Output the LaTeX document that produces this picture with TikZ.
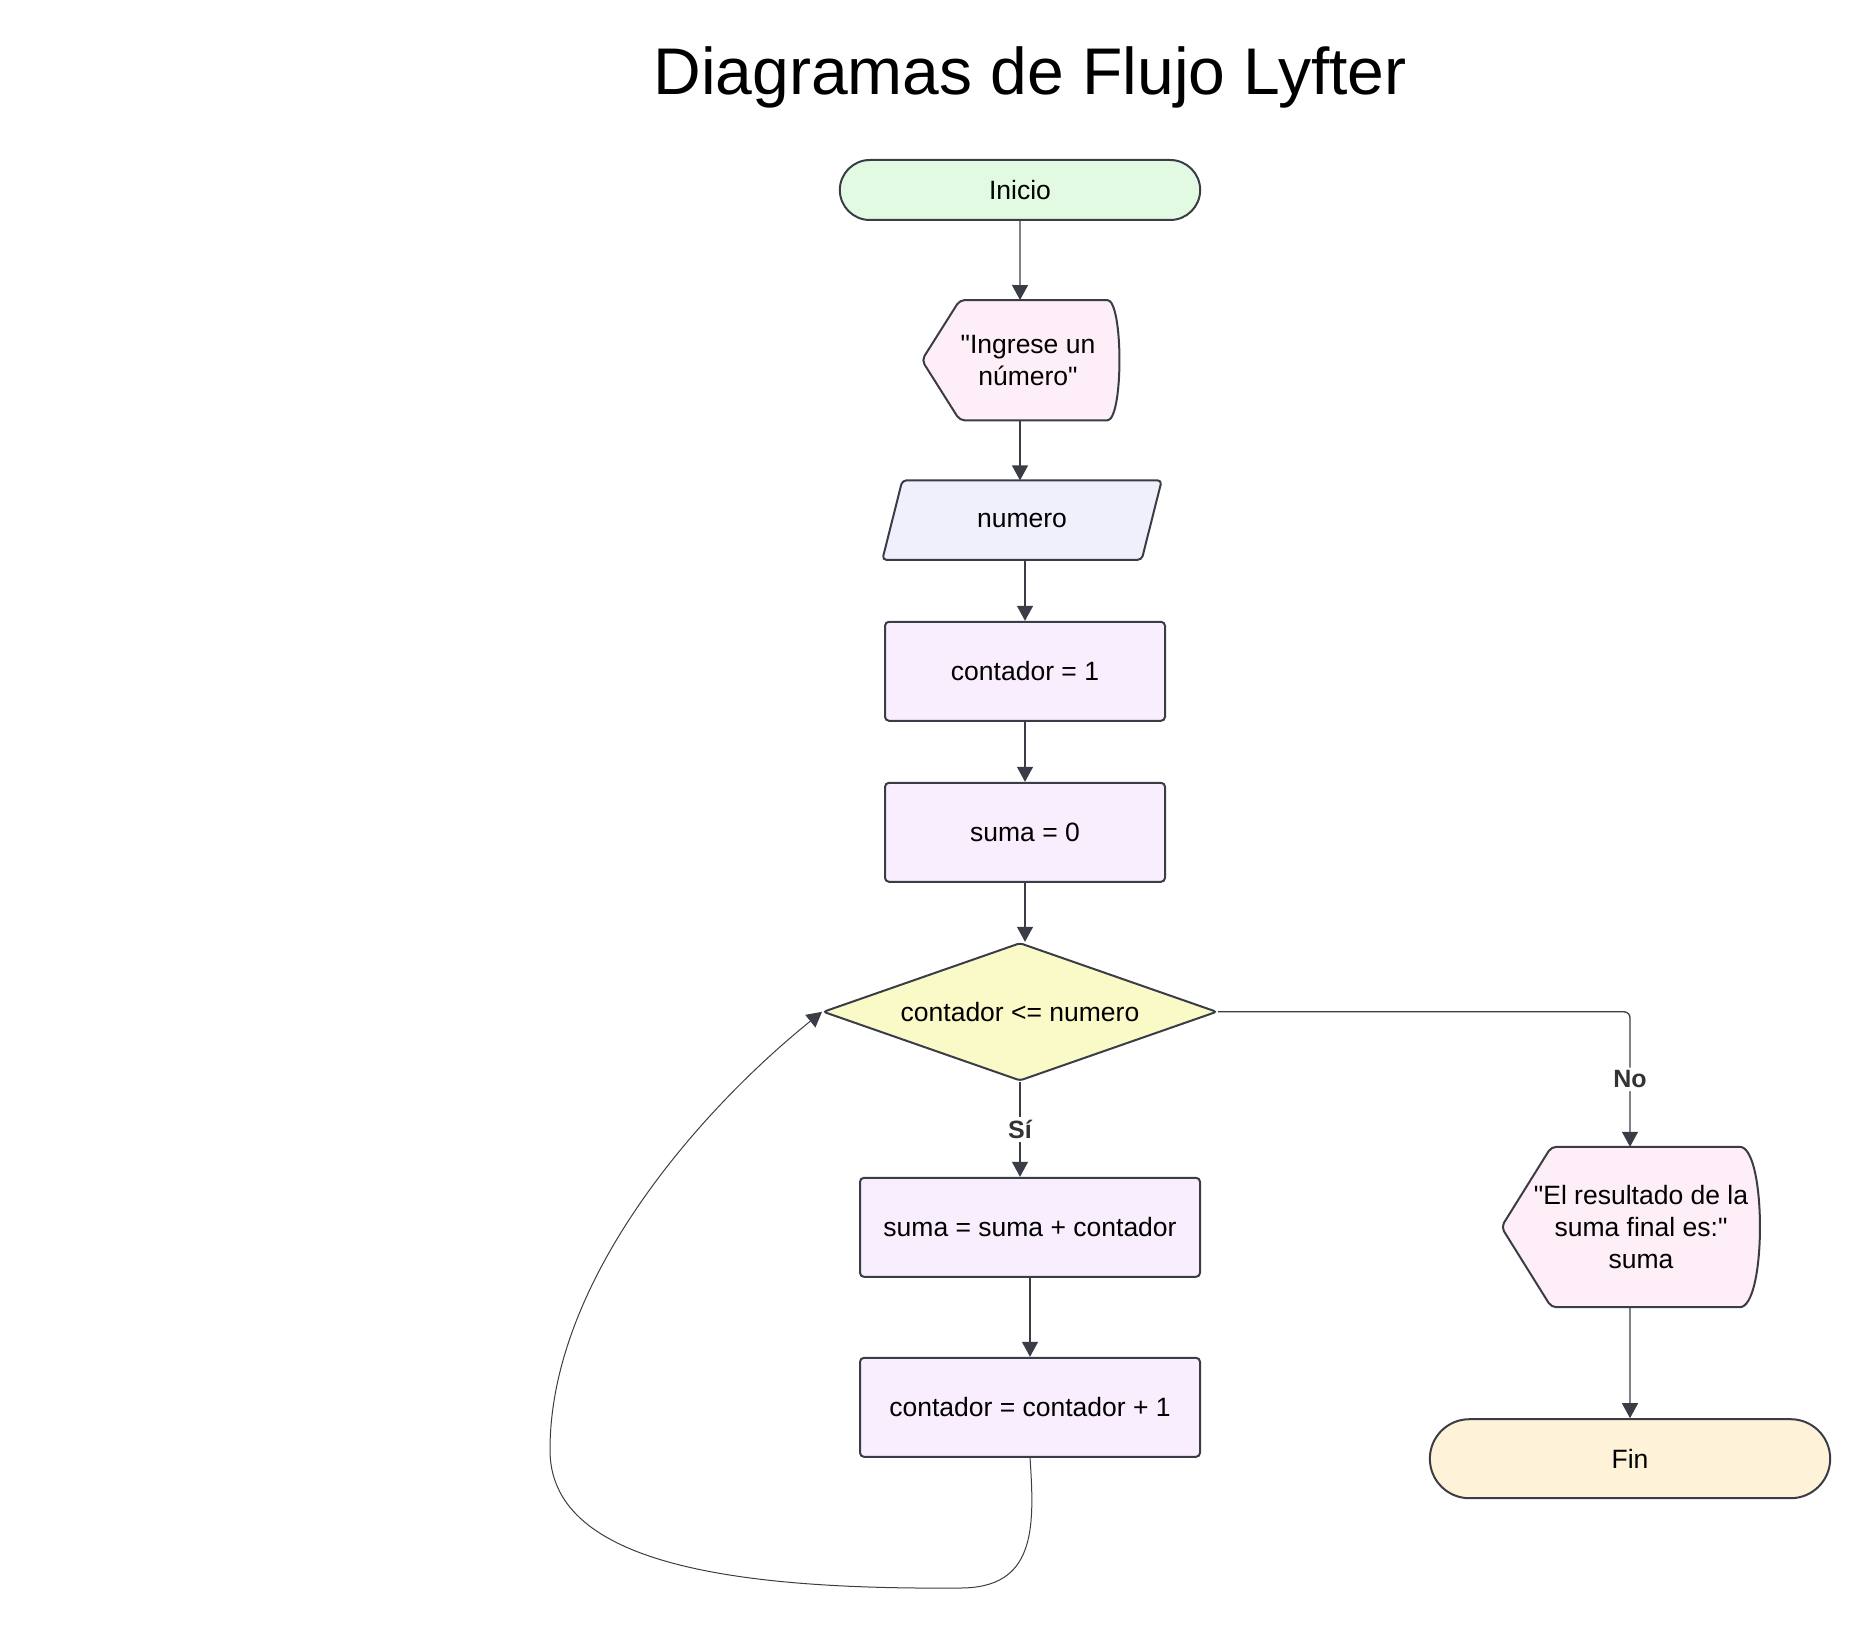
\documentclass[tikz,border=0pt]{standalone}
\usepackage{fontspec}
\setmainfont{Liberation Sans}[Ligatures=TeXOff]
\usetikzlibrary{arrows.meta, positioning, shapes.geometric, shapes.misc, backgrounds}
\definecolor{edgegray}{HTML}{3A3D45}
\definecolor{startgreen}{HTML}{E2F9E2}
\definecolor{showpink}{HTML}{FDEEF8}
\definecolor{inputblue}{HTML}{F0F0FD}
\definecolor{procviolet}{HTML}{F9EEFD}
\definecolor{testyellow}{HTML}{FAFAC8}
\definecolor{endsand}{HTML}{FEF2D9}
\definecolor{labelgray}{HTML}{333333}
\tikzset{
  term/.style={rounded rectangle, draw=edgegray, fill=#1, line width=2pt,
               minimum height=60pt},
  term/.default=startgreen,
  inbox/.style={minimum width=279pt, minimum height=79pt},
  inline/.style={draw=edgegray, fill=inputblue, line width=2pt, rounded corners=4pt},
  pbox/.style={rectangle, rounded corners=4pt, draw=edgegray, fill=procviolet,
               line width=2pt, minimum height=99pt, minimum width=#1},
  pbox/.default=280pt,
  tbox/.style={diamond, aspect=2.85, draw=edgegray, fill=testyellow,
               line width=2pt, rounded corners=3pt, inner sep=0pt,
               minimum width=394pt, minimum height=138pt},
  showbox/.style={align=center, inner sep=0pt},
  showline/.style={draw=edgegray, fill=showpink, line width=2pt, rounded corners=5pt},
  arr/.style={-{Triangle[length=15pt, width=16pt]}, line width=1.3pt, draw=edgegray},
  lbl/.style={fill=white, text=labelgray, inner sep=3pt,
              font=\bfseries\fontsize{25}{30}\selectfont},
}

\begin{document}
\begin{tikzpicture}[x=1pt, y=-1pt, every node/.style={font=\fontsize{26.5}{32}\selectfont}]
  \useasboundingbox (0,0) rectangle (1870,1629);
  \node[anchor=base, font=\fontsize{66}{79}\selectfont] (title) at (1030,95)
    {Diagramas de Flujo Lyfter};

  % main column
  \node[term, minimum width=367pt] (start) at (1020,190) {Inicio};
  \node[showbox, minimum width=196pt, minimum height=120pt, below=79pt of start]
    (ask) {\hspace*{16pt}"Ingrese un\\\hspace*{16pt}número"};
  \node[inbox, below=60pt of ask, xshift=2pt] (num) {numero};
  \node[pbox, below=61pt of num, xshift=3pt] (cont) {contador = 1};
  \node[pbox, below=60pt of cont] (sum0) {suma = 0};
  \node[tbox, below=59pt of sum0, xshift=-5pt] (cond) {contador <= numero};
  \node[pbox=340pt, below=95pt of cond, xshift=10pt] (sumup) {suma = suma + contador};
  \node[pbox=340pt, below=79pt of sumup] (contup) {contador = contador + 1};

  % exit branch
  \node[showbox, minimum width=257pt, minimum height=160pt] (result) at (1630,1227)
    {\hspace*{22pt}"El resultado de la\\\hspace*{22pt}suma final es:"\\\hspace*{22pt}suma};
  \node[term=endsand, minimum width=407pt, minimum height=79pt, below=111pt of result]
    (fin) {Fin};

  \begin{scope}[on background layer]
    \draw[inline] ([xshift=20pt]num.north west) -- (num.north east)
      -- ([xshift=-20pt]num.south east) -- (num.south west) -- cycle;
    \foreach \n/\l/\r in {ask/38pt/16pt, result/50pt/24pt}
      \draw[showline] (\n.west) -- ([xshift=\l]\n.north west) -- ([xshift=-\r]\n.north east)
        .. controls ([xshift=\r/3]\n.north east) and ([xshift=\r/3]\n.south east)
        .. ([xshift=-\r]\n.south east) -- ([xshift=\l]\n.south west) -- cycle;
  \end{scope}

  \draw[arr] (start) -- (start |- ask.north);
  \draw[arr] (ask.south) -- (ask.south |- num.north);
  \draw[arr] (cont.north |- num.south) -- (cont.north);
  \draw[arr] (cont) -- (sum0);
  \draw[arr] (sum0.south) -- (sum0.south |- cond.north);
  \draw[arr] (cond.south) -- node[lbl] {Sí} (cond.south |- sumup.north);
  \draw[arr] (sumup) -- (contup);
  \draw[arr, line width=1pt] (contup.south)
    .. controls (1035,1530) and (1035,1588) .. (960,1588)
    .. controls (720,1590) and (550,1560) .. (550,1450)
    .. controls (550,1280) and (700,1110) .. (cond.west);
  \draw[arr, rounded corners=6pt] (cond.east) -| node[lbl, pos=0.75] {No} (result.north);
  \draw[arr] (result) -- (fin);
\end{tikzpicture}
\end{document}
